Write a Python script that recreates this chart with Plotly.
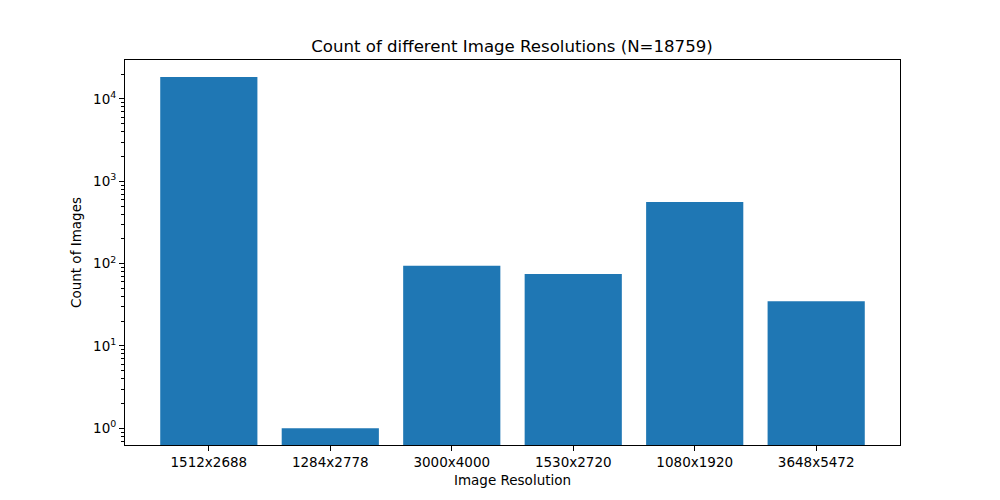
import plotly.graph_objects as go

categories = ["1512x2688", "1284x2778", "3000x4000", "1530x2720", "1080x1920", "3648x5472"]
counts = [18500, 1, 94, 75, 561, 35]
major_vals = [1, 10, 100, 1000, 10000]
major_text = ["10<sup>0</sup>", "10<sup>1</sup>", "10<sup>2</sup>", "10<sup>3</sup>", "10<sup>4</sup>"]
minor_vals = [m * d for d in [0.1, 1, 10, 100, 1000, 10000] for m in range(2, 10)]

fig = go.Figure(go.Bar(
    x=list(range(len(categories))), y=counts,
    marker=dict(color="#1f77b4", line=dict(width=0)),
    width=0.8,
))

font = dict(family="DejaVu Sans", size=13.5, color="black")
fig.update_layout(
    width=1000, height=500,
    margin=dict(l=117, r=108, t=52, b=63),
    paper_bgcolor="white", plot_bgcolor="white",
    showlegend=False,
    font=font,
    title=dict(text="Count of different Image Resolutions (N=18759)", x=(512 - 8) / 1000, xanchor="center",
               y=1 - 38 / 500, yanchor="middle", font=dict(family="DejaVu Sans", size=16.6, color="black")),
)
fig.update_xaxes(
    range=[-0.69, 5.69], tickvals=list(range(len(categories))), ticktext=categories,
    ticks="outside", ticklen=5, tickwidth=1, tickcolor="black",
    showline=True, linecolor="black", linewidth=1, mirror=True, showgrid=False, zeroline=False,
    title=dict(text="Image Resolution", font=font, standoff=6),
)
fig.update_yaxes(
    type="log", range=[-0.203, 4.473], tickvals=major_vals, ticktext=major_text,
    ticks="outside", ticklen=5, tickwidth=1, tickcolor="black",
    minor=dict(tickvals=minor_vals, ticks="outside", ticklen=3, tickwidth=1, tickcolor="black", showgrid=False),
    showline=True, linecolor="black", linewidth=1, mirror=True, showgrid=False, zeroline=False,
    title=dict(text="Count of Images", font=font, standoff=8),
)
fig.write_html("out.html")
